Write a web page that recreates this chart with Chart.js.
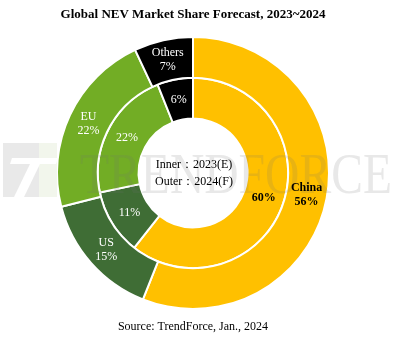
<!DOCTYPE html>
<html>
<head>
<meta charset="utf-8">
<script src="https://cdn.jsdelivr.net/npm/chart.js@4"></script>
<style>
    html, body { margin: 0; padding: 0; background: #fff; }
    #wrap { width: 397px; height: 342px; }
</style>
</head>
<body>
<div id="wrap"><canvas id="share-chart"></canvas></div>
<script>
// Data
const categories = ['China', 'US', 'EU', 'Others'];
const share2023 = [60, 11, 22, 6];   // inner ring
const share2024 = [56, 15, 22, 7];   // outer ring
const sliceColors = ['#FFC000', '#3F6D35', '#72AD25', '#000000'];
const labelColors = ['#000', '#fff', '#fff', '#fff'];

const SERIF = '"Liberation Serif", "Times New Roman", serif';

// Faint TrendForce watermark drawn over the rings
const watermark = {
    id: 'watermark',
    afterDatasetsDraw(chart) {
        const ctx = chart.ctx;
        ctx.save();
        // logo block at the far left
        ctx.fillStyle = 'rgba(120,120,120,0.16)';
        ctx.fillRect(3, 143, 36, 54);
        ctx.fillStyle = 'rgba(160,190,120,0.14)';
        ctx.fillRect(39, 143, 18, 54);
        ctx.fillStyle = '#fff';
        ctx.beginPath();
        ctx.moveTo(12, 158); ctx.lineTo(58, 158); ctx.lineTo(56, 164); ctx.lineTo(10, 164);
        ctx.closePath();
        ctx.fill();
        ctx.beginPath();
        ctx.moveTo(30, 164); ctx.lineTo(40, 164); ctx.lineTo(24, 197); ctx.lineTo(14, 197);
        ctx.closePath();
        ctx.fill();
        // word mark
        ctx.fillStyle = 'rgba(110,110,110,0.16)';
        ctx.font = '58px ' + SERIF;
        ctx.textAlign = 'left';
        ctx.textBaseline = 'alphabetic';
        ctx.fillText('TRENDFORCE', 80, 193, 312);
        ctx.restore();
    }
};

// Slice labels and the centre legend text
const sliceLabels = {
    id: 'sliceLabels',
    afterDraw(chart) {
        const ctx = chart.ctx;
        ctx.save();
        ctx.textAlign = 'center';
        ctx.textBaseline = 'middle';

        chart.data.datasets.forEach((ds, di) => {
            const meta = chart.getDatasetMeta(di);
            meta.data.forEach((arc, i) => {
                const p = arc.getCenterPoint();
                const bold = i === 0;
                ctx.font = (bold ? 'bold ' : '') + '12px ' + SERIF;
                ctx.fillStyle = labelColors[i];
                if (di === 0) {
                    ctx.fillText(categories[i], p.x, p.y - 7);
                    ctx.fillText(ds.data[i] + '%', p.x, p.y + 7);
                } else {
                    ctx.fillText(ds.data[i] + '%', p.x, p.y);
                }
            });
        });

        const area = chart.chartArea;
        const cx = (area.left + area.right) / 2;
        const cy = (area.top + area.bottom) / 2;
        ctx.font = '12px ' + SERIF;
        ctx.fillStyle = '#000';
        ctx.fillText('Inner\uFF1A2023(E)', cx + 1, cy - 8);
        ctx.fillText('Outer\uFF1A2024(F)', cx + 1, cy + 9);
        ctx.restore();
    }
};

new Chart(document.getElementById('share-chart'), {
    type: 'doughnut',
    data: {
        labels: categories,
        datasets: [
            {
                label: '2024(F)',
                data: share2024,
                backgroundColor: sliceColors,
                borderColor: '#fff',
                borderWidth: 2
            },
            {
                label: '2023(E)',
                data: share2023,
                backgroundColor: sliceColors,
                borderColor: '#fff',
                borderWidth: 2
            }
        ]
    },
    options: {
        responsive: true,
        maintainAspectRatio: false,
        animation: false,
        cutout: '40%',
        layout: { padding: { left: 0, right: 11, top: 0, bottom: 0 } },
        plugins: {
            legend: { display: false },
            tooltip: { enabled: false },
            title: {
                display: true,
                text: 'Global NEV Market Share Forecast, 2023~2024',
                color: '#000',
                font: { family: SERIF, size: 13, weight: 'bold' },
                padding: { top: 7, bottom: 13.4 }
            },
            subtitle: {
                display: true,
                position: 'bottom',
                text: 'Source: TrendForce, Jan., 2024',
                color: '#000',
                font: { family: SERIF, size: 12, weight: 'normal' },
                padding: { top: 9.8, bottom: 7.8 }
            }
        }
    },
    plugins: [watermark, sliceLabels]
});
</script>
</body>
</html>
